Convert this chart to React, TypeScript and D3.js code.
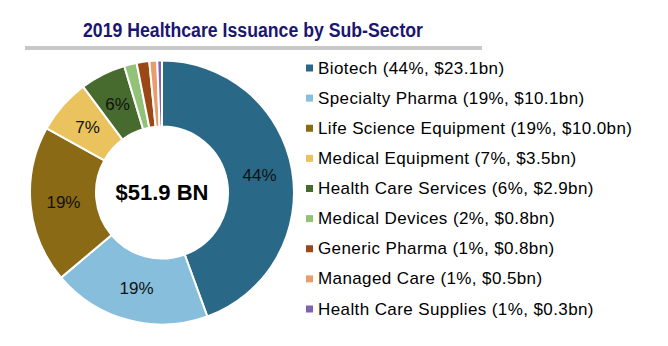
import React from "react";
import * as d3 from "d3";

const categories = [
  "Biotech",
  "Specialty Pharma",
  "Life Science Equipment",
  "Medical Equipment",
  "Health Care Services",
  "Medical Devices",
  "Generic Pharma",
  "Managed Care",
  "Health Care Supplies",
];
const values = [23.1, 10.1, 10.0, 3.5, 2.9, 0.8, 0.8, 0.5, 0.3];
const pctLabels = ["44%", "19%", "19%", "7%", "6%", "2%", "1%", "1%", "1%"];
const valueLabels = ["$23.1bn", "$10.1bn", "$10.0bn", "$3.5bn", "$2.9bn", "$0.8bn", "$0.8bn", "$0.5bn", "$0.3bn"];
const colors = ["#2a6887", "#86bedb", "#8a6a14", "#eac25e", "#476a2f", "#92c277", "#9b4716", "#e99c6c", "#8062b2"];
const showSliceLabel = [true, true, true, true, true, false, false, false, false];
const title = "2019 Healthcare Issuance by Sub-Sector";
const centerLabel = "$51.9 BN";

export default function App() {
  const W = 668, H = 346;
  const cx = 162, cy = 192.5, rOuter = 132, rInner = 66;
  const pie = d3.pie<number>().sort(null).value((d) => d)(values);
  const arc = d3.arc<d3.PieArcDatum<number>>().innerRadius(rInner).outerRadius(rOuter);
  const labelArc = d3.arc<d3.PieArcDatum<number>>().innerRadius(99).outerRadius(99);
  const legendY = d3.scaleLinear().domain([0, categories.length - 1]).range([68, 309]);
  return (
    <svg width={W} height={H} style={{ position: "absolute", left: 0, top: 0, background: "#fff" }}
      fontFamily="'Liberation Sans', Arial, sans-serif">
      <text x={253} y={37} textAnchor="middle" fontWeight="bold" fontSize={19.5} fill="#1b1670"
        textLength={340} lengthAdjust="spacingAndGlyphs">{title}</text>
      <rect x={25} y={46} width={457} height={4} fill="#c8c8c8" />
      <g transform={`translate(${cx},${cy})`}>
        {pie.map((p, i) => (
          <path key={i} d={arc(p) || ""} fill={colors[i]} stroke="#fff" strokeWidth={2} />
        ))}
        {pie.map((p, i) => {
          if (!showSliceLabel[i]) return null;
          const [x, y] = labelArc.centroid(p);
          return (
            <text key={"l" + i} x={x} y={y} textAnchor="middle" dominantBaseline="central" fontSize={17} fill="#111">
              {pctLabels[i]}
            </text>
          );
        })}
        <text x={0} y={0} textAnchor="middle" dominantBaseline="central" fontSize={22} fontWeight="bold" fill="#000">
          {centerLabel}
        </text>
      </g>
      <g>
        {categories.map((c, i) => (
          <g key={c} transform={`translate(306,${legendY(i)})`}>
            <rect x={0} y={-3.5} width={7} height={7} fill={colors[i]} />
            <text x={12} y={0} dominantBaseline="central" fontSize={17} letterSpacing={0.4} fill="#000">
              {`${c} (${pctLabels[i]}, ${valueLabels[i]})`}
            </text>
          </g>
        ))}
      </g>
    </svg>
  );
}
